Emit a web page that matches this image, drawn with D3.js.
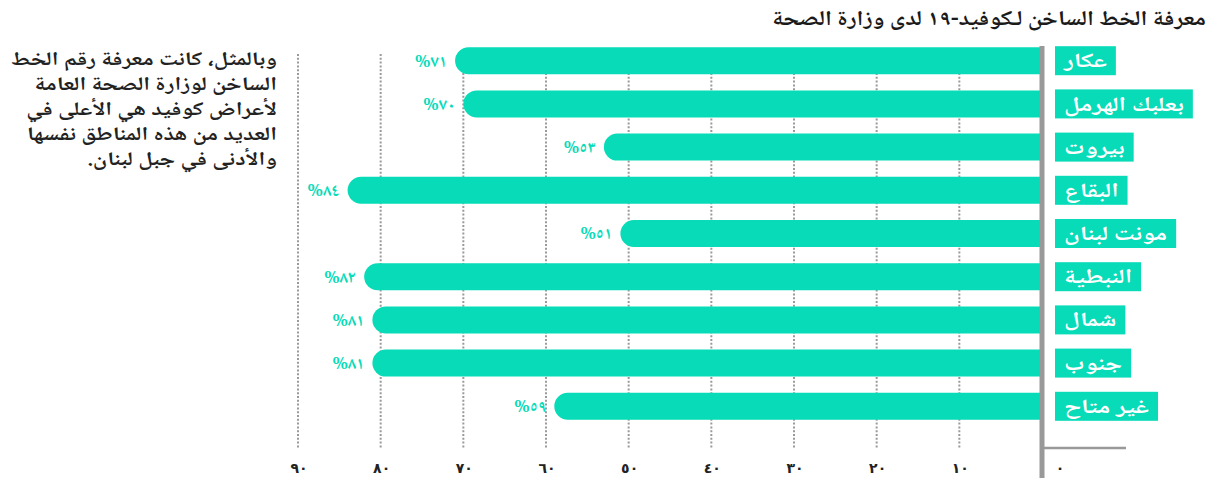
<!DOCTYPE html>
<html>
<head>
<meta charset="utf-8">
<script src="https://cdn.jsdelivr.net/npm/d3@7/dist/d3.min.js"></script>
<style>
  html, body { margin: 0; padding: 0; background: #fff; }
  svg { display: block; }
  text { font-family: "Noto Naskh Arabic", "Noto Sans Arabic", "DejaVu Sans", sans-serif; }
</style>
</head>
<body>
<svg id="chart" width="1209" height="478"></svg>
<script>
const title = "معرفة الخط الساخن لـكوفيد-١٩ لدى وزارة الصحة";
const noteLines = [
  "وبالمثل، كانت معرفة رقم الخط",
  "الساخن لوزارة الصحة العامة",
  "لأعراض كوفيد هي الأعلى في",
  "العديد من هذه المناطق نفسها",
  "والأدنى في جبل لبنان."
];
const categories = ["عكار", "بعلبك الهرمل", "بيروت", "البقاع", "مونت لبنان", "النبطية", "شمال", "جنوب", "غير متاح"];
const values = [71, 70, 53, 84, 51, 82, 81, 81, 59];
const tickValues = [0, 10, 20, 30, 40, 50, 60, 70, 80, 90];
const tickLabels = ["٠", "١٠", "٢٠", "٣٠", "٤٠", "٥٠", "٦٠", "٧٠", "٨٠", "٩٠"];

const arabicDigits = n => String(n).replace(/\d/g, d => "٠١٢٣٤٥٦٧٨٩"[d]);

const teal = "#07dbb8";
const svg = d3.select("#chart");

const x = d3.scaleLinear().domain([0, 90]).range([1042, 298]);
const y = d3.scaleBand().domain(categories).range([39, 428]).paddingInner(0.375).paddingOuter(0.19);

// gridlines
svg.append("g").selectAll("line")
  .data(tickValues.filter(v => v > 0))
  .join("line")
  .attr("x1", d => x(d)).attr("x2", d => x(d))
  .attr("y1", 54).attr("y2", 449)
  .attr("stroke", "#9a9a9a")
  .attr("stroke-width", 2)
  .attr("stroke-dasharray", "2,1.8");

// bars (rounded left end only)
const bh = y.bandwidth();
const r = bh / 2;
const rows = categories.map((c, i) => ({c, v: values[i]}));
svg.append("g").selectAll("path")
  .data(rows)
  .join("path")
  .attr("fill", teal)
  .attr("d", d => {
    const x0 = x(d.v), x1 = x(0), y0 = y(d.c);
    return `M${x1},${y0} L${x0 + r},${y0} A${r},${r} 0 0 0 ${x0 + r},${y0 + bh} L${x1},${y0 + bh} Z`;
  });

// value labels
svg.append("g").selectAll("text")
  .data(rows)
  .join("text")
  .attr("x", d => x(d.v) - 8)
  .attr("y", d => y(d.c) + bh / 2)
  .attr("dy", "0.35em")
  .attr("text-anchor", "end")
  .attr("direction", "ltr")
  .attr("fill", teal)
  .attr("font-size", 17)
  .attr("font-weight", "bold")
  .text(d => "%" + arabicDigits(d.v));

// axis line at zero
svg.append("line")
  .attr("x1", x(0)).attr("x2", x(0))
  .attr("y1", 46).attr("y2", 478)
  .attr("stroke", "#999").attr("stroke-width", 5);
svg.append("line")
  .attr("x1", x(0) + 2).attr("x2", 1126)
  .attr("y1", 448).attr("y2", 448)
  .attr("stroke", "#999").attr("stroke-width", 2.5);

// tick labels
svg.append("g").selectAll("text")
  .data(tickValues)
  .join("text")
  .attr("x", d => d === 0 ? x(0) + 18 : x(d) + 1)
  .attr("y", 468)
  .attr("dy", "0.35em")
  .attr("text-anchor", "middle")
  .attr("font-size", 14)
  .attr("font-weight", "bold")
  .attr("fill", "#222")
  .style("font-family", "'DejaVu Sans', sans-serif")
  .text((d, i) => tickLabels[i]);

// category label boxes
const labScale = 1.3;
const lab = svg.append("g").selectAll("g")
  .data(categories)
  .join("g")
  .attr("transform", d => `translate(1055,${y(d) + bh / 2})`);
lab.each(function(d) {
  const g = d3.select(this);
  const t = g.append("g").append("text")
    .attr("direction", "rtl")
    .attr("text-anchor", "start")
    .attr("dy", "0.33em")
    .attr("fill", "#fff")
    .attr("font-size", 20)
    .attr("font-weight", "bold")
    .text(d);
  const w = t.node().getComputedTextLength() * labScale;
  d3.select(t.node().parentNode).attr("transform", `translate(${w + 9},0) scale(${labScale},1)`);
  g.insert("rect", "g")
    .attr("x", 0).attr("y", -14.5)
    .attr("width", w + 18).attr("height", 29)
    .attr("fill", teal);
});

// title
svg.append("g")
  .attr("transform", "translate(1206,25) scale(1.15,1)")
  .append("text")
  .attr("direction", "rtl")
  .attr("text-anchor", "start")
  .attr("font-size", 21)
  .attr("font-weight", "bold")
  .attr("fill", "#1a1a1a")
  .text(title);

// side note
svg.append("g").selectAll("g")
  .data(noteLines)
  .join("g")
  .attr("transform", (d, i) => `translate(277,${58 + i * 25}) scale(1.25,1)`)
  .append("text")
  .attr("dy", "0.35em")
  .attr("direction", "rtl")
  .attr("text-anchor", "start")
  .attr("font-size", 19)
  .attr("font-weight", "bold")
  .attr("fill", "#222")
  .text(d => d);
</script>
</body>
</html>
